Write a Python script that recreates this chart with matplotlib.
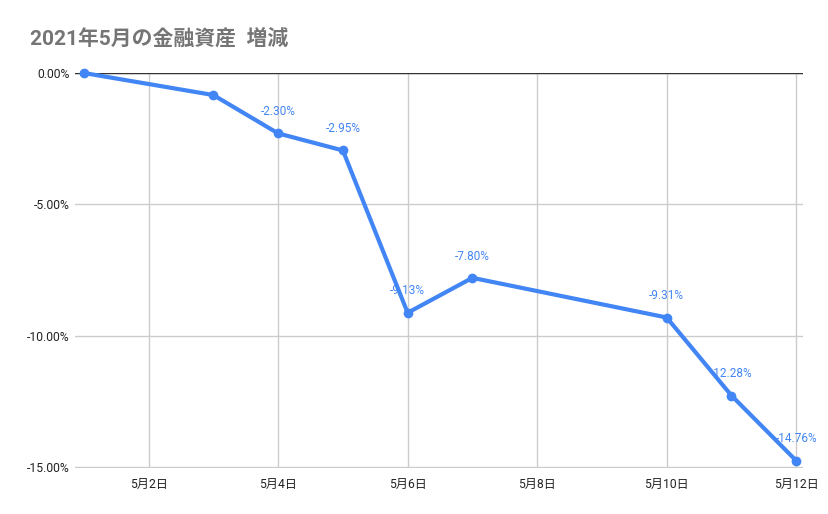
import matplotlib.pyplot as plt

plt.rcParams['font.family'] = ['Roboto', 'Noto Sans CJK JP', 'DejaVu Sans']

# データ（5月の日付と増減率 %）
days = [1, 3, 4, 5, 6, 7, 10, 11, 12]
values = [0.00, -0.84, -2.30, -2.95, -9.13, -7.80, -9.31, -12.28, -14.76]
show_label = [False, False, True, True, True, True, True, True, True]
tick_days = [2, 4, 6, 8, 10, 12]
tick_labels = [f'5月{d}日' for d in tick_days]
y_ticks = [0, -5, -10, -15]

blue = '#4285F4'

fig = plt.figure(figsize=(8.29, 5.14), dpi=100)
ax = fig.add_axes([0.091, 0.0895, 0.878, 0.7685])

ax.plot(days, values, color=blue, linewidth=3, marker='o', markersize=6,
        solid_joinstyle='round', zorder=3, clip_on=False)

# データラベル（最初の2点は表示なし）
for d, v, s in zip(days, values, show_label):
    if s:
        ax.annotate(f'{v:.2f}%', (d, v), xytext=(0, 11), textcoords='offset points',
                    ha='center', va='bottom', fontsize=8.5, color=blue)

ax.set_xlim(0.87, 12.11)
ax.set_ylim(-15.04, 0)
ax.set_xticks(tick_days)
ax.set_xticklabels(tick_labels)
ax.set_yticks(y_ticks)
ax.set_yticklabels([f'{t:.2f}%' for t in y_ticks])
ax.tick_params(axis='both', length=0, labelsize=8.7, colors='#222222')
ax.tick_params(axis='x', pad=7)
ax.tick_params(axis='y', pad=4)

ax.grid(True, color='#cccccc', linewidth=1)
ax.set_axisbelow(True)
for s in ['left', 'right', 'bottom', 'top']:
    ax.spines[s].set_visible(False)
ax.axhline(0, color='#333333', linewidth=1, zorder=2)

fig.text(0.036, 0.926, '2021年5月の金融資産  増減', fontsize=15, fontweight='bold',
         color='#757575', ha='left', va='center')

fig.savefig('out.png', dpi=100)
